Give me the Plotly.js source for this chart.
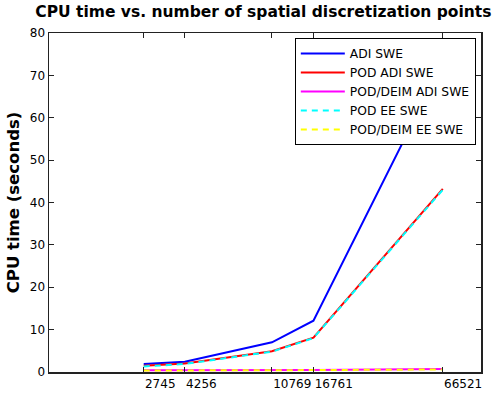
<!DOCTYPE html>
<html>
<head>
<meta charset="utf-8">
<script src="https://cdn.plot.ly/plotly-3.0.1.min.js"></script>
<style>html,body{margin:0;padding:0;background:#fff;}#chart{width:497px;height:395px;}</style>
</head>
<body>
<div id="chart"></div>
<script>
const points = [2745, 4256, 10769, 16761, 66521];
const tickLabels = ['2745', '4256', '10769', '16761', '66521'];
const adiSwe = [1.9, 2.4, 7.0, 12.1, 73.0];
const podAdiSwe = [1.5, 2.0, 4.9, 8.1, 43.2];
const podDeimAdiSwe = [0.4, 0.4, 0.45, 0.5, 0.7];
const podEeSwe = [1.3, 1.9, 4.8, 8.0, 43.0];
const podDeimEeSwe = [0.35, 0.35, 0.4, 0.45, 0.6];

const traces = [
  {name: 'ADI SWE', y: adiSwe, line: {color: '#0000ff', width: 2}},
  {name: 'POD ADI SWE', y: podAdiSwe, line: {color: '#ff0000', width: 2}},
  {name: 'POD/DEIM ADI SWE', y: podDeimAdiSwe, line: {color: '#ff00ff', width: 2}},
  {name: 'POD EE SWE', y: podEeSwe, line: {color: '#00ffff', width: 2, dash: '6px,5px'}},
  {name: 'POD/DEIM EE SWE', y: podDeimEeSwe, line: {color: '#ffff00', width: 2, dash: '6px,5px'}}
].map(t => Object.assign({x: points, type: 'scatter', mode: 'lines'}, t));

const font = {family: 'DejaVu Sans, sans-serif', color: '#000'};

const layout = {
  width: 497, height: 395,
  margin: {l: 49, r: 16, t: 33, b: 23, pad: 0},
  paper_bgcolor: '#fff', plot_bgcolor: '#fff',
  font: Object.assign({size: 12}, font),
  title: {text: '<b>CPU time vs. number of spatial discretization points</b>', font: Object.assign({size: 15.5}, font), x: 0.53, xanchor: 'center', y: 0.984, yanchor: 'top'},
  xaxis: {
    type: 'log', range: [3, 5], tickvals: points, ticktext: tickLabels, tickangle: 0,
    ticks: 'inside', ticklen: 5, tickcolor: '#222', mirror: 'ticks',
    showline: true, linecolor: '#222', linewidth: 1.5, showgrid: false, zeroline: false,
    ticklabelposition: 'outside right', tickfont: Object.assign({size: 12}, font)
  },
  yaxis: {
    range: [0, 80], dtick: 10, tick0: 0,
    ticks: 'inside', ticklen: 5, tickcolor: '#222', mirror: 'ticks',
    showline: true, linecolor: '#222', linewidth: 1.5, showgrid: false, zeroline: false,
    tickfont: Object.assign({size: 12}, font),
    title: {text: '<b>CPU time (seconds)</b>', font: Object.assign({size: 16.5}, font), standoff: 6}
  },
  legend: {
    x: 0.988, y: 0.985, xanchor: 'right', yanchor: 'top',
    bgcolor: '#fff', bordercolor: '#000', borderwidth: 1,
    font: Object.assign({size: 12.3}, font), tracegroupgap: 0, itemwidth: 44
  },
  showlegend: true
};

Plotly.newPlot('chart', traces, layout, {displayModeBar: false, staticPlot: true});
</script>
</body>
</html>
